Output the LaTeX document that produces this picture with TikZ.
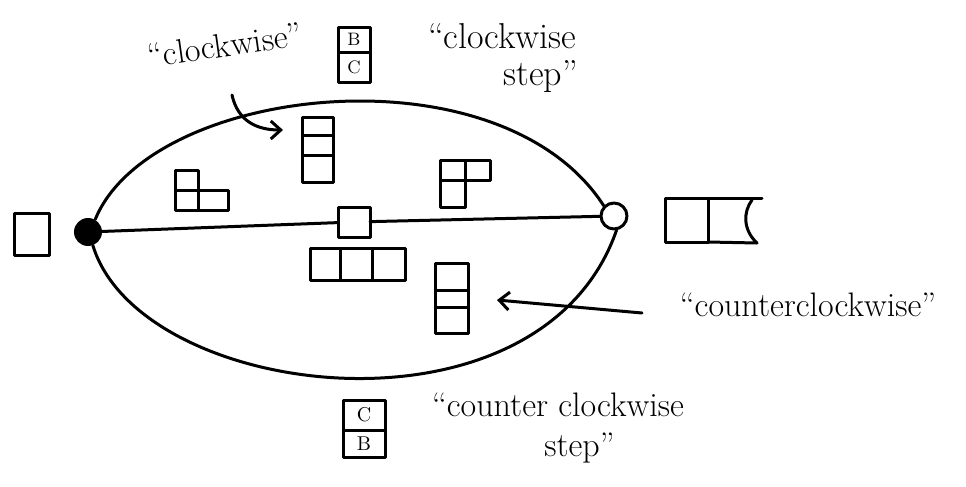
\documentclass[tikz,border=0pt]{standalone}
\usetikzlibrary{arrows.meta}
\begin{document}
\begin{tikzpicture}[x=0.5pt,y=-0.5pt, line join=round, line cap=round,
  ink/.style={line width=1.5pt},
  cell/.style={draw, line width=1.5pt, inner sep=0pt, outer sep=0pt},
  lbl/.style={font=\fontsize{17}{19}\selectfont, inner sep=0pt},
  letter/.style={font=\fontsize{9}{10}\selectfont},
  tip/.style={-{Straight Barb[length=5pt,width=9pt,line width=1.5pt]}}]
\useasboundingbox (0,0) rectangle (966,487);

% end points of the loop
\node[circle, fill, minimum size=14pt, inner sep=0pt] (fs) at (88,232) {};
\node[circle, draw, line width=1.5pt, minimum size=13pt, inner sep=0pt] (os) at (614,216) {};

% the loop
\draw[ink] (fs.60) .. controls (150,85) and (500,45) .. (os.135);
\draw[ink] (fs.-70) .. controls (140,400) and (540,450) .. (os.-80);

% middle square and the axis
\node[cell, minimum width=16pt, minimum height=15pt] (ms) at (354,222) {};
\draw[ink] (fs) -- (ms);
\draw[ink] (ms) -- (os);

% left square
\node[cell, minimum width=17.5pt, minimum height=21pt] (ls) at (32,234) {};

% right box
\node[cell, minimum width=21.5pt, minimum height=22pt] (rb1) at (686.5,220) {};
\coordinate (rbt) at (762,198);
\coordinate (rbb) at (757,243);
\coordinate (rbs) at (752,200);
\draw[ink] (rb1.north east) -- (rbt);
\draw[ink] (rb1.south east) -- (rbb);
\draw[ink] (rbs) .. controls (743,212) and (743,230) .. (rbb);

% upper-left L block
\node[cell, minimum width=11.5pt, minimum height=10pt] (la) at (186.5,180) {};
\node[cell, minimum width=11.5pt, minimum height=10pt] (lb) at (186.5,200) {};
\node[cell, minimum width=15pt, minimum height=10pt] (lc) at (213,200) {};

% top stack
\node[cell, minimum width=15.5pt, minimum height=9pt] (ta) at (317.5,126) {};
\node[cell, minimum width=15.5pt, minimum height=10pt] (tb) at (317.5,145) {};
\node[cell, minimum width=15.5pt, minimum height=13.5pt] (tc) at (317.5,168.5) {};

% upper-right block
\node[cell, minimum width=12.5pt, minimum height=10pt] (ra) at (452.5,170) {};
\node[cell, minimum width=12.5pt, minimum height=10pt] (rbx) at (477.5,170) {};
\node[cell, minimum width=12.5pt, minimum height=13.5pt] (rc) at (452.5,193.5) {};

% horizontal row below the middle
\node[cell, minimum width=15pt, minimum height=16pt] (ha) at (325,264) {};
\node[cell, minimum width=16pt, minimum height=16pt] (hb) at (356,264) {};
\node[cell, minimum width=16.5pt, minimum height=16pt] (hc) at (388.5,264) {};

% lower stack
\node[cell, minimum width=16.5pt, minimum height=13.5pt] (va) at (451.5,276.5) {};
\node[cell, minimum width=16.5pt, minimum height=8.5pt] (vb) at (451.5,298.5) {};
\node[cell, minimum width=16.5pt, minimum height=13pt] (vc) at (451.5,320) {};

% B / C box (clockwise step)
\node[cell, letter, minimum width=16pt, minimum height=12.5pt] (bc1) at (354,39.5) {B};
\node[cell, letter, minimum width=16pt, minimum height=15pt] (bc2) at (354,67) {C};

% C / B box (counterclockwise step)
\node[cell, letter, font=\fontsize{10}{11}\selectfont, minimum width=21pt, minimum height=15pt] (cb1) at (364,415) {C};
\node[cell, letter, font=\fontsize{10}{11}\selectfont, minimum width=21pt, minimum height=13.5pt] (cb2) at (364,443.5) {B};

% labels
\node[lbl, rotate=8] (cw) at (225,45) {``clockwise''};
\coordinate (cwa) at (232,95);
\coordinate (cwb) at (283,130);
\draw[ink, tip] (cwa) .. controls (238,122) and (258,130) .. (cwb);

\node[lbl, align=left, font=\fontsize{18}{18.5}\selectfont] (cws) at (503,58) {``clockwise\\\hspace*{2.1em}step''};

\node[lbl] (ccw) at (808,305) {``counterclockwise''};
\coordinate (ccwa) at (642,313);
\coordinate (ccwb) at (497,300);
\draw[ink, tip] (ccwa) -- (ccwb);

\node[lbl, align=left, font=\fontsize{17}{20}\selectfont] (ccws) at (558,428) {``counter clockwise\\\hspace*{3.3em}step''};
\end{tikzpicture}
\end{document}
